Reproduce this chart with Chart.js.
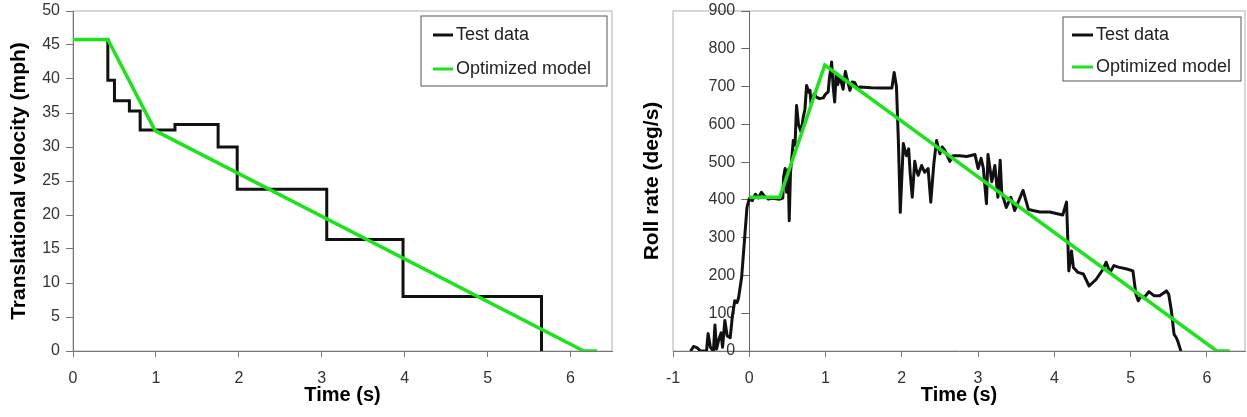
<!DOCTYPE html>
<html lang="en">
<head>
<meta charset="UTF-8">
<title>Velocity and roll rate</title>
<script src="https://cdn.jsdelivr.net/npm/chart.js@4.4.1/dist/chart.umd.min.js"></script>
<style>
  body { margin: 0; background: #fff; }
  .wrap { display: flex; width: 1247px; height: 417px; }
  .left { position: relative; width: 625px; height: 417px; }
  .right { position: relative; width: 622px; height: 417px; }
</style>
</head>
<body>
<div class="wrap">
  <div class="left"><canvas id="velChart"></canvas></div>
  <div class="right"><canvas id="rollChart"></canvas></div>
</div>
<script>
// left chart: translational velocity, test data is a step curve
const velTime = [0, 0.42, 0.50, 0.68, 0.81, 1.23, 1.75, 1.98, 3.06, 3.98, 5.65];
const velTest = [45.8, 39.8, 36.8, 35.3, 32.5, 33.3, 30.0, 23.8, 16.4, 8.0, 0];
const velModelTime = [0, 0.42, 0.99, 6.16, 6.32];
const velModel = [45.8, 45.8, 32.4, 0, 0];

// right chart: roll rate
const rollTime = [-0.77, -0.73, -0.68, -0.64, -0.56, -0.54, -0.51, -0.47, -0.45, -0.43, -0.40, -0.37, -0.35, -0.32, -0.29, -0.25, -0.22, -0.19, -0.16, -0.14, -0.10, -0.06, -0.03,
  0, 0.04, 0.08, 0.12, 0.16, 0.20, 0.25, 0.30, 0.40, 0.44, 0.45, 0.47, 0.49, 0.51, 0.524, 0.54, 0.577, 0.60, 0.62, 0.645, 0.68, 0.708, 0.73, 0.752, 0.78, 0.796, 0.81, 0.85, 0.883, 0.92, 0.97,
  1.0, 1.035, 1.05, 1.08, 1.10, 1.12, 1.14, 1.16, 1.19, 1.23, 1.26, 1.277, 1.32, 1.35, 1.385, 1.42, 1.45, 1.6, 1.75, 1.87, 1.90, 1.93, 1.955, 1.98,
  2.02, 2.06, 2.09, 2.11, 2.137, 2.17, 2.19, 2.215, 2.26, 2.30, 2.345, 2.38, 2.42, 2.456, 2.50, 2.53, 2.565, 2.63, 2.67, 2.76, 2.85, 2.96,
  3.0, 3.04, 3.07, 3.11, 3.13, 3.18, 3.22, 3.26, 3.29, 3.31, 3.37, 3.43, 3.48, 3.53, 3.59, 3.66, 3.72, 3.81, 3.94,
  4.11, 4.16, 4.19, 4.225, 4.25, 4.31, 4.38, 4.456, 4.55, 4.64, 4.68, 4.73, 4.78, 4.84, 4.95,
  5.03, 5.07, 5.10, 5.14, 5.18, 5.24, 5.31, 5.38, 5.47, 5.50, 5.535, 5.57, 5.60, 5.62, 5.645, 5.66];
const rollTest = [0, 12, 8, 0, 0, 46, 10, 0, 69, 5, 30, 48, 10, 81, 40, 35, 95, 133, 128, 141, 195, 301, 380,
  403, 398, 415, 405, 420, 410, 402, 404, 402, 405, 460, 483, 420, 480, 345, 470, 557, 545, 650, 600, 580, 619, 640, 703, 685, 690, 655, 680, 672, 668, 670,
  680, 686, 720, 765, 700, 659, 735, 705, 725, 693, 740, 725, 690, 712, 710, 695, 699, 697, 696, 696, 737, 700, 557, 367,
  549, 517, 535, 470, 407, 502, 480, 465, 491, 473, 483, 394, 496, 557, 522, 540, 531, 502, 517, 517, 515, 520,
  483, 510, 483, 390, 520, 448, 491, 407, 505, 420, 380, 407, 372, 396, 425, 375, 372, 368, 368,
  360, 394, 212, 265, 221, 208, 204, 172, 190, 217, 235, 208, 226, 222, 217,
  212, 150, 133, 146, 142, 157, 146, 146, 159, 150, 106, 44, 35, 25, 9, 0];
const rollModelTime = [0, 0.40, 0.99, 6.13, 6.30];
const rollModel = [407, 407, 757, 0, 0];

const seriesNames = ['Test data', 'Optimized model'];
const velTicks = { min: 0, max: 50, step: 5 };
const rollTicks = { min: 0, max: 900, step: 100 };

const FONT = '"Liberation Sans", Arial, Helvetica, sans-serif';
const BLACK = '#111111';
const GREEN = '#1be41b';

function pairs(xs, ys) {
  return xs.map((x, i) => ({ x: x, y: ys[i] }));
}

// light grey box round the plot area
const framePlugin = {
  id: 'frame',
  beforeDraw(chart) {
    const { ctx, chartArea: a } = chart;
    ctx.save();
    ctx.strokeStyle = '#b0b0b0';
    ctx.lineWidth = 1;
    ctx.strokeRect(a.left, a.top, a.right - a.left, a.bottom - a.top);
    ctx.restore();
  }
};

// boxed legend sitting inside the top right corner of the plot
const boxLegend = {
  id: 'boxLegend',
  afterDraw(chart, args, o) {
    const { ctx, chartArea: a } = chart;
    const x = a.right - o.right - o.width;
    const y = a.top + o.top;
    ctx.save();
    ctx.fillStyle = '#fff';
    ctx.fillRect(x, y, o.width, o.height);
    ctx.strokeStyle = '#555';
    ctx.lineWidth = 1;
    ctx.strokeRect(x, y, o.width, o.height);
    ctx.font = '18px ' + FONT;
    ctx.textBaseline = 'middle';
    chart.data.datasets.forEach((ds, i) => {
      const cy = y + o.firstRow + i * o.rowGap;
      ctx.strokeStyle = ds.borderColor;
      ctx.lineWidth = 3;
      ctx.beginPath();
      ctx.moveTo(x + o.lineStart, cy);
      ctx.lineTo(x + o.lineStart + o.lineLen, cy);
      ctx.stroke();
      ctx.fillStyle = '#222';
      ctx.fillText(ds.label, x + o.lineStart + o.lineLen + 3, cy);
    });
    ctx.restore();
  }
};

// moves the roll rate tick axis so it crosses the time axis at 0
const crossAxis = {
  id: 'crossAxis',
  afterLayout(chart) {
    const s = chart.scales.y2;
    if (!s) return;
    const px = chart.scales.x.getPixelForValue(0);
    s.left = px - 60;   // room for the labels, they are clipped to this box
    s.right = px;
  }
};

const tickFont = { family: FONT, size: 16, lineHeight: 1 };
const titleFontX = { family: FONT, size: 20, weight: 'bold', lineHeight: 1 };
const titleFontY = { family: FONT, size: 21, weight: 'bold', lineHeight: 1.2 };

function xScale(min, max) {
  return {
    type: 'linear', min: min, max: max,
    ticks: { stepSize: 1, includeBounds: false, padding: 14, color: '#333', font: tickFont },
    grid: { drawOnChartArea: false, tickLength: 6, color: '#777' },
    border: { color: '#777' },
    title: { display: true, text: 'Time (s)', color: '#000', font: titleFontX, padding: { top: 0, bottom: 12 } },
    afterFit(s) { s.height = 66; s.paddingLeft = 0; s.paddingRight = 0; }
  };
}

function fixWidth(w) {
  return function (s) { s.width = w; s.paddingTop = 0; s.paddingBottom = 0; };
}

new Chart(document.getElementById('velChart'), {
  type: 'line',
  data: {
    datasets: [{
      label: seriesNames[0],
      data: pairs(velTime, velTest),
      borderColor: BLACK,
      borderWidth: 3,
      stepped: 'before',
      pointRadius: 0,
      order: 1
    }, {
      label: seriesNames[1],
      data: pairs(velModelTime, velModel),
      borderColor: GREEN,
      borderWidth: 3.5,
      pointRadius: 0,
      order: 0
    }]
  },
  options: {
    responsive: true,
    maintainAspectRatio: false,
    animation: false,
    layout: { padding: { left: 2, top: 11, right: 13, bottom: 0 } },
    plugins: {
      legend: { display: false },
      tooltip: { enabled: false },
      boxLegend: { width: 186, height: 70, top: 5, right: 5, firstRow: 19, rowGap: 34, lineStart: 12, lineLen: 20 }
    },
    scales: {
      x: xScale(0, 6.5),
      y: {
        min: velTicks.min, max: velTicks.max,
        ticks: { stepSize: velTicks.step, padding: 6, color: '#333', font: tickFont },
        grid: { drawOnChartArea: false, tickLength: 7, color: '#777' },
        border: { color: '#777' },
        title: { display: true, text: 'Translational velocity (mph)', color: '#000', font: titleFontY, padding: { top: 5, bottom: 6 } },
        afterFit: fixWidth(71)
      }
    }
  },
  plugins: [framePlugin, boxLegend]
});

new Chart(document.getElementById('rollChart'), {
  type: 'line',
  data: {
    datasets: [{
      label: seriesNames[0],
      data: pairs(rollTime, rollTest),
      borderColor: BLACK,
      borderWidth: 3,
      borderJoinStyle: 'round',
      pointRadius: 0,
      order: 1
    }, {
      label: seriesNames[1],
      data: pairs(rollModelTime, rollModel),
      borderColor: GREEN,
      borderWidth: 3.5,
      pointRadius: 0,
      order: 0
    }]
  },
  options: {
    responsive: true,
    maintainAspectRatio: false,
    animation: false,
    layout: { padding: { left: 4, top: 11, right: 2, bottom: 0 } },
    plugins: {
      legend: { display: false },
      tooltip: { enabled: false },
      boxLegend: { width: 178, height: 64, top: 6, right: 4, firstRow: 18, rowGap: 32, lineStart: 9, lineLen: 21 }
    },
    scales: {
      x: xScale(-1, 6.5),
      // outer scale only carries the title
      y: {
        position: 'left',
        min: rollTicks.min, max: rollTicks.max,
        ticks: { display: false },
        grid: { display: false },
        border: { display: false },
        title: { display: true, text: 'Roll rate (deg/s)', color: '#000', font: titleFontY, padding: { top: 11, bottom: 8 } },
        afterFit: fixWidth(44)
      },
      // tick axis, moved to time 0 by the crossAxis plugin
      y2: {
        position: 'left',
        min: rollTicks.min, max: rollTicks.max,
        ticks: { stepSize: rollTicks.step, padding: 6, color: '#333', font: tickFont },
        grid: { drawOnChartArea: false, tickLength: 8, color: '#666' },
        border: { color: '#666' },
        afterFit: fixWidth(0)
      }
    }
  },
  plugins: [framePlugin, boxLegend, crossAxis]
});
</script>
</body>
</html>
